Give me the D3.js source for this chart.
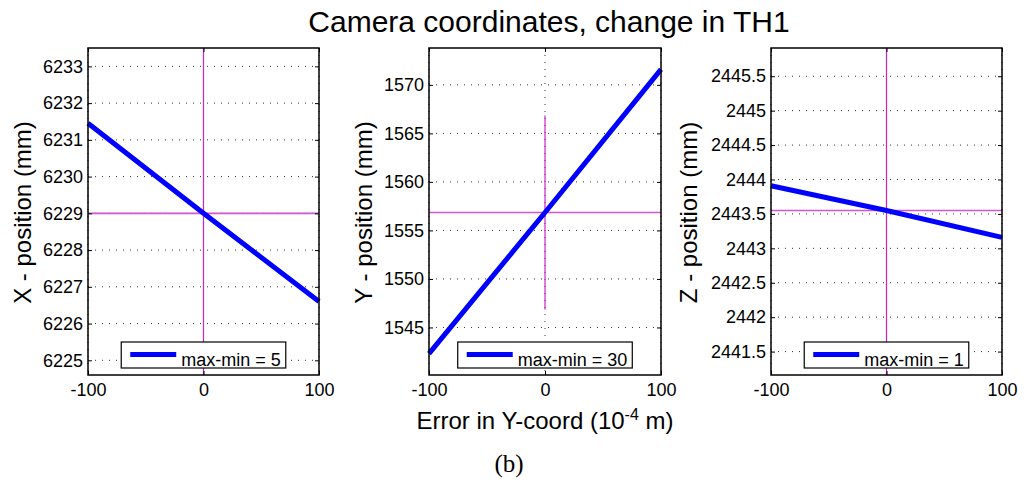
<!DOCTYPE html>
<html>
<head>
<meta charset="utf-8">
<script src="https://cdn.jsdelivr.net/npm/d3@7"></script>
<style>
  body { margin: 0; background: #fff; }
  text { font-family: "Liberation Sans", Arial, sans-serif; fill: #000; }
</style>
</head>
<body>
<svg id="canvas" width="1025" height="482"></svg>
<script>
// data
const errors = [-100, 0, 100];
const posX = [6231.45, 6229.0, 6226.6];
const posY = [1542.3, 1556.85, 1571.6];
const posZ = [2443.91, 2443.55, 2443.16];

const yLabels = ["X - position (mm)", "Y - position (mm)", "Z - position (mm)"];
const legendLabels = ["max-min = 5", "max-min = 30", "max-min = 1"];
const yDomains = [[6224.6, 6233.5], [1540.1, 1573.8], [2441.16, 2445.91]];
const yTicks = [
  [6225, 6226, 6227, 6228, 6229, 6230, 6231, 6232, 6233],
  [1545, 1550, 1555, 1560, 1565, 1570],
  [2441.5, 2442, 2442.5, 2443, 2443.5, 2444, 2444.5, 2445, 2445.5]
];
const xTicks = [-100, 0, 100];
// magenta reference: centre value and the y-extent of the vertical marker
const refCentre = [6229.0, 1556.85, 2443.55];
const refSpan = [null, [1546.85, 1566.85], null];

const series = [posX, posY, posZ];

const CANVAS = d3.select("#canvas");
const TOP = 48, BOTTOM = 375;
const panels = [
  { left: 88, right: 319, labelGap: 57 },
  { left: 429, right: 661, labelGap: 57 },
  { left: 771, right: 1002, labelGap: 74 }
];

// matlab prints a plain hyphen for negatives
const fmt = d => String(+d.toFixed(2));

CANVAS.append("text")
  .attr("x", 549).attr("y", 32)
  .attr("text-anchor", "middle")
  .style("font-size", "30px")
  .text("Camera coordinates, change in TH1");

function drawPanel(i) {
  const p = panels[i];
  const x = d3.scaleLinear().domain([-100, 100]).range([p.left, p.right]);
  const y = d3.scaleLinear().domain(yDomains[i]).range([BOTTOM, TOP]);
  const g = CANVAS.append("g");

  // dotted grid
  g.selectAll(".gy").data(yTicks[i]).enter().append("line")
    .attr("x1", p.left).attr("x2", p.right)
    .attr("y1", d => y(d)).attr("y2", d => y(d))
    .attr("stroke", "#333").attr("stroke-width", 1)
    .attr("stroke-dasharray", "1,6");
  g.selectAll(".gx").data(xTicks).enter().append("line")
    .attr("x1", d => x(d)).attr("x2", d => x(d))
    .attr("y1", TOP).attr("y2", BOTTOM)
    .attr("stroke", "#333").attr("stroke-width", 1)
    .attr("stroke-dasharray", "1,6");

  // magenta reference cross
  g.append("line")
    .attr("x1", p.left).attr("x2", p.right)
    .attr("y1", y(refCentre[i])).attr("y2", y(refCentre[i]))
    .attr("stroke", "#d055d8").attr("stroke-width", 1.6);
  const span = refSpan[i] || yDomains[i];
  g.append("line")
    .attr("x1", x(0)).attr("x2", x(0))
    .attr("y1", y(span[0])).attr("y2", y(span[1]))
    .attr("stroke", "#cc22cc").attr("stroke-width", 1.2);

  // data line
  const line = d3.line().x((d, k) => x(errors[k])).y(d => y(d));
  g.append("path")
    .datum(series[i])
    .attr("d", line)
    .attr("fill", "none")
    .attr("stroke", "#0000ff")
    .attr("stroke-width", 5);

  // axes, ticks inside like matlab
  const ax = g.append("g").attr("transform", `translate(0,${BOTTOM})`)
    .call(d3.axisBottom(x).tickValues(xTicks).tickSize(-4).tickPadding(8).tickFormat(fmt));
  const ax2 = g.append("g").attr("transform", `translate(0,${TOP})`)
    .call(d3.axisTop(x).tickValues(xTicks).tickSize(-4).tickFormat(""));
  const ay = g.append("g").attr("transform", `translate(${p.left},0)`)
    .call(d3.axisLeft(y).tickValues(yTicks[i]).tickSize(-4).tickPadding(5).tickFormat(fmt));
  const ay2 = g.append("g").attr("transform", `translate(${p.right},0)`)
    .call(d3.axisRight(y).tickValues(yTicks[i]).tickSize(-4).tickFormat(""));
  [ax, ax2, ay, ay2].forEach(a => {
    a.select(".domain").remove();
    a.selectAll("line").attr("stroke", "#000");
    a.selectAll("text").style("font-size", "18px").attr("fill", "#000")
      .style("font-family", "'Liberation Sans', Arial, sans-serif");
  });

  // frame
  g.append("rect")
    .attr("x", p.left).attr("y", TOP)
    .attr("width", p.right - p.left).attr("height", BOTTOM - TOP)
    .attr("fill", "none").attr("stroke", "#000").attr("stroke-width", 1.5);

  // y label
  g.append("text")
    .attr("transform", `translate(${p.left - p.labelGap},${(TOP + BOTTOM) / 2 + 1}) rotate(-90)`)
    .attr("text-anchor", "middle")
    .style("font-size", "24px")
    .text(yLabels[i]);

  // legend, centered at bottom
  const lg = g.append("g");
  const txt = lg.append("text")
    .attr("y", BOTTOM - 14)
    .attr("dominant-baseline", "middle")
    .style("font-size", "18px")
    .text(legendLabels[i]);
  const tw = txt.node().getComputedTextLength();
  const bw = 60 + tw + 5;
  const bx = (p.left + p.right) / 2 - bw / 2;
  txt.attr("x", bx + 60);
  lg.insert("rect", "text")
    .attr("x", bx).attr("y", BOTTOM - 33)
    .attr("width", bw).attr("height", 26)
    .attr("fill", "#fff").attr("stroke", "#000").attr("stroke-width", 1.2);
  lg.insert("line", "text")
    .attr("x1", bx + 9).attr("x2", bx + 55)
    .attr("y1", BOTTOM - 20.5).attr("y2", BOTTOM - 20.5)
    .attr("stroke", "#0000ff").attr("stroke-width", 5);
}

panels.forEach((p, i) => drawPanel(i));

CANVAS.append("text")
  .attr("x", 545).attr("y", 429)
  .attr("text-anchor", "middle")
  .style("font-size", "24px")
  .html('Error in Y-coord (10<tspan dy="-9" style="font-size:16px">-4</tspan><tspan dy="9"> m)</tspan>');

CANVAS.append("text")
  .attr("x", 509).attr("y", 472)
  .attr("text-anchor", "middle")
  .style("font-family", "'Liberation Serif', 'DejaVu Serif', serif")
  .style("font-size", "25px")
  .text("(b)");
</script>
</body>
</html>
